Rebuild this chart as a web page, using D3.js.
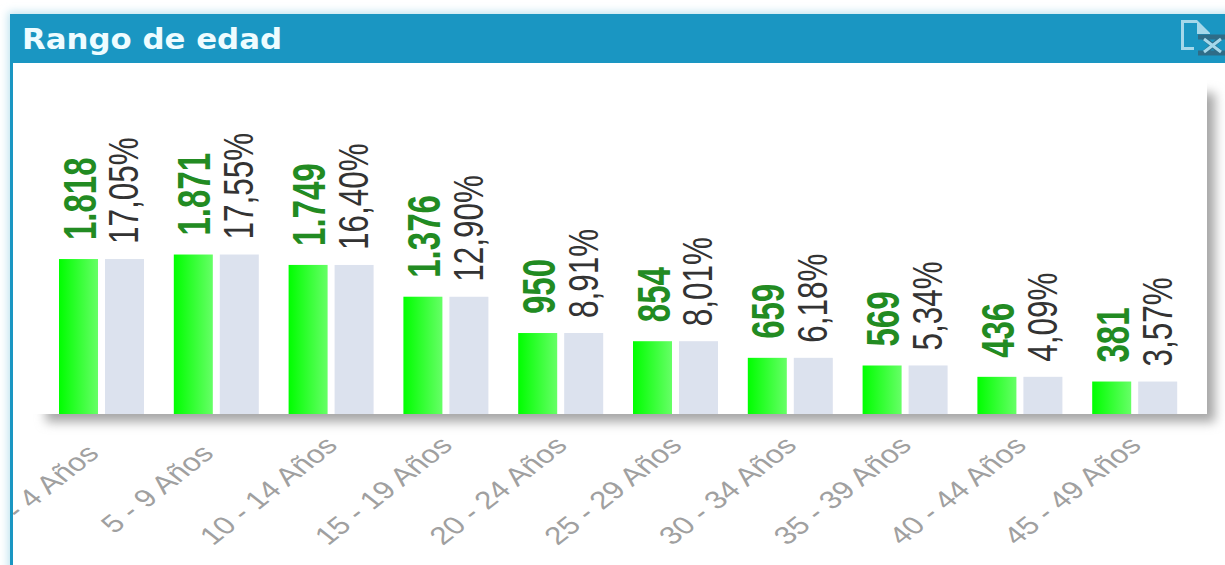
<!DOCTYPE html>
<html><head><meta charset="utf-8"><script src="https://cdnjs.cloudflare.com/ajax/libs/d3/7.8.5/d3.min.js"></script>
<style>html,body{margin:0;padding:0;background:#fff;overflow:hidden}svg{display:block}</style></head>
<body><svg id="c" width="1225" height="565"></svg>
<script>
const categories=["0 - 4 Años","5 - 9 Años","10 - 14 Años","15 - 19 Años","20 - 24 Años","25 - 29 Años","30 - 34 Años","35 - 39 Años","40 - 44 Años","45 - 49 Años"];
const counts=[1818,1871,1749,1376,950,854,659,569,436,381];
const countLabels=["1.818","1.871","1.749","1.376","950","854","659","569","436","381"];
const percents=[17.05,17.55,16.40,12.90,8.91,8.01,6.18,5.34,4.09,3.57];
const percentLabels=["17,05%","17,55%","16,40%","12,90%","8,91%","8,01%","6,18%","5,34%","4,09%","3,57%"];
const title="Rango de edad";

const svg=d3.select("#c");
const defs=svg.append("defs");
const g=defs.append("linearGradient").attr("id","green");
g.append("stop").attr("offset","0").attr("stop-color","#00ff00");
g.append("stop").attr("offset","1").attr("stop-color","#66ff66");
const sh=defs.append("filter").attr("id","shadow").attr("x","-5%").attr("y","-10%").attr("width","110%").attr("height","120%");
sh.append("feGaussianBlur").attr("stdDeviation",5.5);
const glow=defs.append("filter").attr("id","glow").attr("x","-5%").attr("y","-10%").attr("width","110%").attr("height","120%");
glow.append("feGaussianBlur").attr("stdDeviation",4);
defs.append("clipPath").attr("id","panelClip").append("rect").attr("x",13).attr("y",63).attr("width",1212).attr("height",502);

// panel frame
svg.append("rect").attr("x",8).attr("y",12).attr("width",1300).attr("height",600).attr("fill","#bfe3ef").attr("filter","url(#glow)");
svg.append("rect").attr("x",10).attr("y",14).attr("width",1300).attr("height",600).attr("fill","#1a96c2");
svg.append("rect").attr("x",13).attr("y",63).attr("width",1300).attr("height",600).attr("fill","#fff");
svg.append("text").attr("x",22).attr("y",49).attr("fill","#eefcff").attr("font-family","'DejaVu Sans'").attr("font-weight",700)
  .attr("font-size",28).attr("textLength",260).attr("lengthAdjust","spacingAndGlyphs").text(title);

// file icon
const icon=svg.append("g").attr("transform","translate(1181,20)");
icon.append("path").attr("d","M16 1.5H1.5V28.5H13").attr("fill","none").attr("stroke","#a5d8ea").attr("stroke-width",3);
icon.append("path").attr("d","M16 0L29 13V14H16Z").attr("fill","#a5d8ea");
icon.append("path").attr("d","M17 17H44M17 33H44M23 18L40 33M40 18L23 33").attr("fill","none").attr("stroke","#2f6c87").attr("stroke-width",5);
icon.append("path").attr("d","M23 19L40 32M40 19L23 32").attr("fill","none").attr("stroke","#a5d8ea").attr("stroke-width",3);

const plot=svg.append("g").attr("clip-path","url(#panelClip)");
const pLeft=38,pRight=1207,pTop=85,pBottom=414;
plot.append("rect").attr("x",pLeft+8).attr("y",pTop+8).attr("width",pRight-pLeft).attr("height",pBottom-pTop).attr("fill","#a6a6a6").attr("filter","url(#shadow)");
plot.append("rect").attr("x",pLeft-10).attr("y",pTop-10).attr("width",pRight-pLeft+10).attr("height",pBottom-pTop+10).attr("fill","#fff");
plot.append("rect").attr("x",13).attr("y",63).attr("width",pRight-13).attr("height",pTop-63+10).attr("fill","#fff");

const x0=d3.scaleBand().domain(categories).range([44.1,1192.1]);
const xs=d3.scaleBand().domain(["n","p"]).range([0,x0.bandwidth()]).paddingInner(0.152).paddingOuter(0.324);
const y=d3.scaleLinear().domain([0,3860]).range([pBottom,pTop]);
const yp=d3.scaleLinear().domain([0,3860*17.05/1818]).range([pBottom,pTop]);

const rows=categories.map((c,i)=>({c,n:counts[i],p:percents[i],nl:countLabels[i],pl:percentLabels[i]}));
const grp=plot.selectAll("g.grp").data(rows).join("g").attr("class","grp").attr("transform",d=>`translate(${x0(d.c)},0)`);
grp.append("rect").attr("x",xs("n")).attr("width",xs.bandwidth()).attr("y",d=>y(d.n)).attr("height",d=>pBottom-y(d.n)).attr("fill","url(#green)");
grp.append("rect").attr("x",xs("p")).attr("width",xs.bandwidth()).attr("y",d=>yp(d.p)).attr("height",d=>pBottom-yp(d.p)).attr("fill","#dce2ee");

grp.append("text").attr("transform",d=>`translate(${xs("n")+xs.bandwidth()/2+17},${y(d.n)-19}) rotate(-90) scale(1,1.4)`)
  .attr("font-family","'Liberation Sans'").attr("font-weight",700).attr("font-size",33).attr("fill","#228b22").text(d=>d.nl);
grp.append("text").attr("transform",d=>`translate(${xs("p")+xs.bandwidth()/2+14},${yp(d.p)-15}) rotate(-90) scale(1,1.33)`)
  .attr("font-family","'Liberation Sans'").attr("font-size",31.5).attr("fill","#333").text(d=>d.pl);

const axis=plot.append("g").attr("transform",`translate(0,${pBottom})`).call(d3.axisBottom(x0).tickSize(0));
axis.select(".domain").remove();
axis.selectAll("text").attr("font-family","'Liberation Sans'").attr("font-size",25).attr("fill","#a0a0a0")
  .attr("y",0).attr("dy",0).attr("text-anchor","end")
  .attr("transform",d=>{const e=d.length-10;return `translate(${-1+e*4.5},${41-e*4}) scale(1.27,1) rotate(-45)`;});
</script></body></html>
